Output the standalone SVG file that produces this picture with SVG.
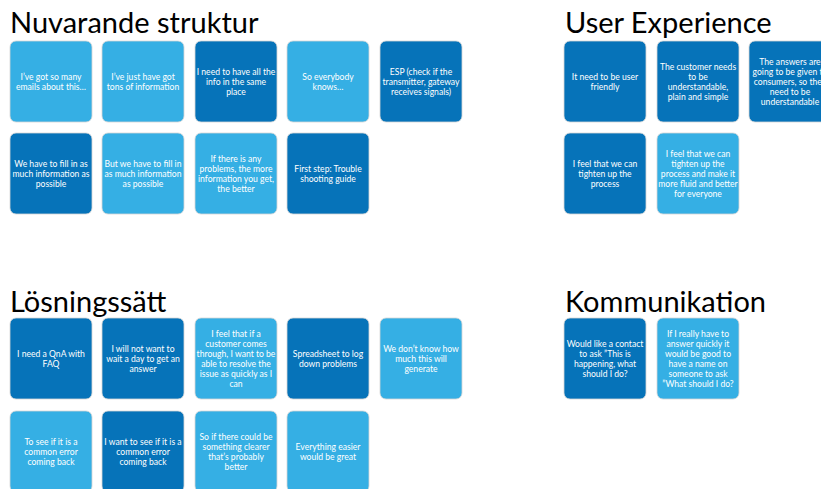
<svg xmlns="http://www.w3.org/2000/svg" width="821" height="489" viewBox="0 0 821 489">
<style>
.title{font-family:Lato,"Liberation Sans",sans-serif;font-size:29px;fill:#000}
.c{stroke:#d6d6d6;stroke-width:0.8}
.d{fill:#0673B9}
.l{fill:#35AFE4}
.t{font-family:Lato,"Liberation Sans",sans-serif;font-size:8.6px;fill:#fff;text-anchor:middle}
</style>
<rect width="821" height="489" fill="#fff"/>
<text class="title" x="10" y="33">Nuvarande struktur</text>
<text class="title" x="565" y="33">User Experience</text>
<text class="title" x="10" y="312">Lösningssätt</text>
<text class="title" x="565" y="312">Kommunikation</text>

<g id="n1"><rect class="c l" x="10" y="41" width="82" height="81" rx="6"/><text class="t" y="84.5"><tspan x="51" dy="-5">I’ve got so many</tspan><tspan x="51" dy="10">emails about this…</tspan></text></g>
<g id="n2"><rect class="c l" x="102" y="41" width="82" height="81" rx="6"/><text class="t" y="84.5"><tspan x="143" dy="-5">I’ve just have got</tspan><tspan x="143" dy="10">tons of information</tspan></text></g>
<g id="n3"><rect class="c d" x="195" y="41" width="82" height="81" rx="6"/><text class="t" y="84.5"><tspan x="236" dy="-10">I need to have all the</tspan><tspan x="236" dy="10">info in the same</tspan><tspan x="236" dy="10">place</tspan></text></g>
<g id="n4"><rect class="c l" x="287" y="41" width="82" height="81" rx="6"/><text class="t" y="84.5"><tspan x="328" dy="-5">So everybody</tspan><tspan x="328" dy="10">knows…</tspan></text></g>
<g id="n5"><rect class="c d" x="380" y="41" width="82" height="81" rx="6"/><text class="t" y="84.5"><tspan x="421" dy="-10">ESP (check if the</tspan><tspan x="421" dy="10">transmitter, gateway</tspan><tspan x="421" dy="10">receives signals)</tspan></text></g>

<g id="n6"><rect class="c d" x="10" y="133" width="82" height="81" rx="6"/><text class="t" y="176.5"><tspan x="51" dy="-10">We have to fill in as</tspan><tspan x="51" dy="10">much information as</tspan><tspan x="51" dy="10">possible</tspan></text></g>
<g id="n7"><rect class="c l" x="102" y="133" width="82" height="81" rx="6"/><text class="t" y="176.5"><tspan x="143" dy="-10">But we have to fill in</tspan><tspan x="143" dy="10">as much information</tspan><tspan x="143" dy="10">as possible</tspan></text></g>
<g id="n8"><rect class="c l" x="195" y="133" width="82" height="81" rx="6"/><text class="t" y="176.5"><tspan x="236" dy="-15">If there is any</tspan><tspan x="236" dy="10">problems, the more</tspan><tspan x="236" dy="10">information you get,</tspan><tspan x="236" dy="10">the better</tspan></text></g>
<g id="n9"><rect class="c d" x="287" y="133" width="82" height="81" rx="6"/><text class="t" y="176.5"><tspan x="328" dy="-5">First step: Trouble</tspan><tspan x="328" dy="10">shooting guide</tspan></text></g>

<g id="u1"><rect class="c d" x="564" y="41" width="82" height="81" rx="6"/><text class="t" y="84.5"><tspan x="605" dy="-5">It need to be user</tspan><tspan x="605" dy="10">friendly</tspan></text></g>
<g id="u2"><rect class="c d" x="657" y="41" width="82" height="81" rx="6"/><text class="t" y="84.5"><tspan x="698" dy="-15">The customer needs</tspan><tspan x="698" dy="10">to be</tspan><tspan x="698" dy="10">understandable,</tspan><tspan x="698" dy="10">plain and simple</tspan></text></g>
<g id="u3"><rect class="c d" x="749" y="41" width="82" height="81" rx="6"/><text class="t" y="84.5"><tspan x="790" dy="-20">The answers are</tspan><tspan x="790" dy="10">going to be given to</tspan><tspan x="790" dy="10">consumers, so they</tspan><tspan x="790" dy="10">need to be</tspan><tspan x="790" dy="10">understandable</tspan></text></g>
<g id="u4"><rect class="c d" x="564" y="133" width="82" height="81" rx="6"/><text class="t" y="176.5"><tspan x="605" dy="-10">I feel that we can</tspan><tspan x="605" dy="10">tighten up the</tspan><tspan x="605" dy="10">process</tspan></text></g>
<g id="u5"><rect class="c l" x="657" y="133" width="82" height="81" rx="6"/><text class="t" y="176.5"><tspan x="698" dy="-20">I feel that we can</tspan><tspan x="698" dy="10">tighten up the</tspan><tspan x="698" dy="10">process and make it</tspan><tspan x="698" dy="10">more fluid and better</tspan><tspan x="698" dy="10">for everyone</tspan></text></g>

<g id="s1"><rect class="c d" x="10" y="318" width="82" height="81" rx="6"/><text class="t" y="361.5"><tspan x="51" dy="-5">I need a QnA with</tspan><tspan x="51" dy="10">FAQ</tspan></text></g>
<g id="s2"><rect class="c d" x="102" y="318" width="82" height="81" rx="6"/><text class="t" y="361.5"><tspan x="143" dy="-10">I will not want to</tspan><tspan x="143" dy="10">wait a day to get an</tspan><tspan x="143" dy="10">answer</tspan></text></g>
<g id="s3"><rect class="c l" x="195" y="318" width="82" height="81" rx="6"/><text class="t" y="361.5"><tspan x="236" dy="-25">I feel that if a</tspan><tspan x="236" dy="10">customer comes</tspan><tspan x="236" dy="10">through, I want to be</tspan><tspan x="236" dy="10">able to resolve the</tspan><tspan x="236" dy="10">issue as quickly as I</tspan><tspan x="236" dy="10">can</tspan></text></g>
<g id="s4"><rect class="c d" x="287" y="318" width="82" height="81" rx="6"/><text class="t" y="361.5"><tspan x="328" dy="-5">Spreadsheet to log</tspan><tspan x="328" dy="10">down problems</tspan></text></g>
<g id="s5"><rect class="c l" x="380" y="318" width="82" height="81" rx="6"/><text class="t" y="361.5"><tspan x="421" dy="-10">We don’t know how</tspan><tspan x="421" dy="10">much this will</tspan><tspan x="421" dy="10">generate</tspan></text></g>

<g id="s6"><rect class="c l" x="10" y="411" width="82" height="81" rx="6"/><text class="t" y="454.5"><tspan x="51" dy="-10">To see if it is a</tspan><tspan x="51" dy="10">common error</tspan><tspan x="51" dy="10">coming back</tspan></text></g>
<g id="s7"><rect class="c d" x="102" y="411" width="82" height="81" rx="6"/><text class="t" y="454.5"><tspan x="143" dy="-10">I want to see if it is a</tspan><tspan x="143" dy="10">common error</tspan><tspan x="143" dy="10">coming back</tspan></text></g>
<g id="s8"><rect class="c l" x="195" y="411" width="82" height="81" rx="6"/><text class="t" y="454.5"><tspan x="236" dy="-15">So if there could be</tspan><tspan x="236" dy="10">something clearer</tspan><tspan x="236" dy="10">that’s probably</tspan><tspan x="236" dy="10">better</tspan></text></g>
<g id="s9"><rect class="c l" x="287" y="411" width="82" height="81" rx="6"/><text class="t" y="454.5"><tspan x="328" dy="-5">Everything easier</tspan><tspan x="328" dy="10">would be great</tspan></text></g>

<g id="k1"><rect class="c d" x="564" y="318" width="82" height="81" rx="6"/><text class="t" y="361.5"><tspan x="605" dy="-15">Would like a contact</tspan><tspan x="605" dy="10">to ask ”This is</tspan><tspan x="605" dy="10">happening, what</tspan><tspan x="605" dy="10">should I do?</tspan></text></g>
<g id="k2"><rect class="c l" x="657" y="318" width="82" height="81" rx="6"/><text class="t" y="361.5"><tspan x="698" dy="-25">If I really have to</tspan><tspan x="698" dy="10">answer quickly it</tspan><tspan x="698" dy="10">would be good to</tspan><tspan x="698" dy="10">have a name on</tspan><tspan x="698" dy="10">someone to ask</tspan><tspan x="698" dy="10">”What should I do?</tspan></text></g>
<g id="edges"/>
</svg>
